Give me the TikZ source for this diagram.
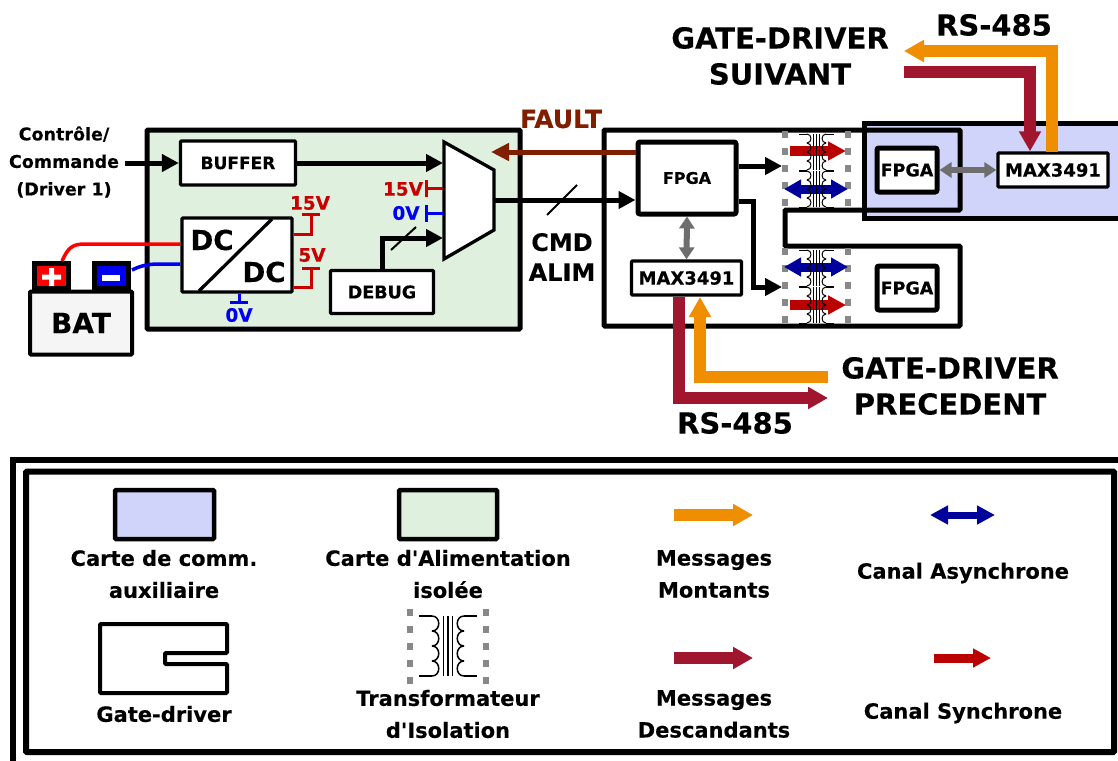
\documentclass[tikz,border=0pt]{standalone}
\usepackage{fontspec}
\usepackage{xcolor}
\usepackage{tikz}
\usetikzlibrary{arrows.meta, positioning, calc}
\setmainfont{DejaVu Sans}[Ligatures=TeXOff, BoldFeatures={FakeBold=0.25}]
\definecolor{msgorange}{RGB}{238, 142, 0}
\definecolor{msgcrimson}{RGB}{160, 22, 47}
\definecolor{chanred}{RGB}{187, 0, 0}
\definecolor{chanblue}{RGB}{0, 0, 154}
\definecolor{faultbrown}{RGB}{128, 30, 0}
\definecolor{railred}{RGB}{200, 0, 0}
\definecolor{railblue}{RGB}{0, 0, 240}
\definecolor{cardgreen}{RGB}{223, 240, 223}
\definecolor{cardblue}{RGB}{208, 212, 250}
\definecolor{isogray}{RGB}{136, 136, 136}
\definecolor{linkgray}{RGB}{110, 110, 110}
\tikzset{
    box/.style={draw, fill=white, line width=3.3pt, rounded corners=1pt, font=\bfseries, inner sep=0pt},
    fpgabox/.style={box, line width=5pt, rounded corners=2pt},
    lbl/.style={font=\bfseries, inner sep=0pt, align=center},
    sig/.style={line width=5pt, -{Triangle[length=17pt, width=17pt]}},
    rail/.style={line width=3pt},
    ribbon/.style={line width=12pt, -{Triangle[length=20pt, width=21pt]}},
    sync/.style={chanred, line width=10pt, -{Triangle[length=18pt, width=18pt]}},
    async/.style={chanblue, line width=9pt, {Triangle[length=17pt, width=18pt]}-{Triangle[length=17pt, width=18pt]}},
    graylink/.style={linkgray, line width=6pt, {Triangle[length=12pt, width=15pt]}-{Triangle[length=12pt, width=15pt]}},
    isobar/.style={isogray, line width=6pt, dash pattern=on 7pt off 10pt},
    trafo/.pic={
        \draw (-29,-30) -- (-16,-30) (29,-30) -- (16,-30) (-29,30) -- (-16,30) (29,30) -- (16,30);
        \foreach \yy in {-30,-15,0,15} {
            \draw (-16,\yy) .. controls (-7,\yy) and (-7,\yy+15) .. (-16,\yy+15);
            \draw (16,\yy) .. controls (7,\yy) and (7,\yy+15) .. (16,\yy+15);
        }
        \draw (-4.5,-30) -- (-4.5,30) (0,-30) -- (0,30) (4.5,-30) -- (4.5,30);
    }
}
\begin{document}
\begin{tikzpicture}[x=1pt, y=-1pt, line join=miter]
    \useasboundingbox (0,0) rectangle (1118,760);

    % Power card
    \draw[line width=5pt, fill=cardgreen, rounded corners=1pt] (147,130) rectangle (520,329);
    \node[box, minimum width=115pt, minimum height=44pt, font=\bfseries\fontsize{17}{17}\selectfont] (buffer) at (238,163) {BUFFER};
    \node[box, minimum width=110pt, minimum height=74pt] (dcdc) at (237,255) {};
    \draw[line width=3.3pt] (199,291) -- (272,219);
    \node[lbl, font=\bfseries\fontsize{27.5}{27.5}\selectfont] (dcup) at (212,240) {DC};
    \node[lbl, font=\bfseries\fontsize{27.5}{27.5}\selectfont] (dcdown) at (264,272) {DC};
    \node[box, minimum width=103pt, minimum height=43pt, font=\bfseries\fontsize{17.5}{17.5}\selectfont] (debug) at (382,292) {DEBUG};
    \draw[line width=3.3pt, fill=white] (444,142) coordinate (muxtl) -- (494,170) -- (494,230) -- (444,259) coordinate (muxbl) -- cycle;
    \coordinate (muxout) at (494,200);

    % Battery
    \node[draw, line width=5pt, fill=red, minimum width=34pt, minimum height=25pt, inner sep=0pt] (batplus) at (51.5,276) {};
    \node[draw, line width=5pt, fill=railblue, minimum width=34pt, minimum height=25pt, inner sep=0pt] (batminus) at (111,276) {};
    \node[box, line width=4pt, fill=black!4, minimum width=102pt, minimum height=63pt, font=\bfseries\fontsize{28}{28}\selectfont] (bat) at (81,323) {BAT};
    \fill[white] (42,274.5) rectangle (61,279.5) (49,268) rectangle (54,286);
    \fill[white] (102,275) rectangle (120,281);
    \draw[red, line width=3.5pt] (62,261) .. controls (68,248) and (72,244) .. (85,244) -- (dcdc.west |- 0,244);
    \draw[railblue, line width=3.5pt] (132,270) .. controls (142,265) and (150,264) .. (160,264) -- (dcdc.west |- 0,264);

    % Control input
    \node[lbl, font=\bfseries\fontsize{17.5}{27.5}\selectfont] (ctrl) at (64,162) {Contrôle/\\Commande\\(Driver 1)};
    \draw[sig] (125,163) -- (buffer.west);
    \draw[sig] (buffer.east) -- (443,163);

    % Rails of the converter
    \coordinate (stubA) at (311,214);
    \coordinate (stubB) at (311,268);
    \coordinate (stubC) at (239,302);
    \draw[railred, rail] (dcdc.east |- 0,234) -| (stubA);
    \draw[railred, rail] (302,214) -- (320,214);
    \draw[railred, rail] (dcdc.east |- 0,287) -| (stubB);
    \draw[railred, rail] (302,268) -- (320,268);
    \draw[railblue, rail] (dcdc.south -| stubC) -- (stubC);
    \draw[railblue, rail] (230,302) -- (248,302);
    \node[lbl, text=railred, font=\bfseries\fontsize{18.5}{18.5}\selectfont] (railA) at (310,203) {15V};
    \node[lbl, text=railred, font=\bfseries\fontsize{18.5}{18.5}\selectfont] (railB) at (312,255) {5V};
    \node[lbl, text=railblue, font=\bfseries\fontsize{18.5}{18.5}\selectfont] (railC) at (239,315) {0V};

    % Rails of the multiplexer
    \draw[railred, rail] (443,188) -- (426,188);
    \draw[railred, rail] (426,180) -- (426,197);
    \draw[railblue, rail] (443,213) -- (426,213);
    \draw[railblue, rail] (426,205) -- (426,222);
    \node[lbl, text=railred, font=\bfseries\fontsize{18.5}{18.5}\selectfont] (muxA) at (403,189) {15V};
    \node[lbl, text=railblue, font=\bfseries\fontsize{18.5}{18.5}\selectfont] (muxB) at (406,213) {0V};
    \draw[sig] (debug.north) |- (443,238);
    \draw[line width=2pt] (391,250) -- (416,227);

    % Main gate driver
    \draw[line width=5pt, fill=white, rounded corners=1pt] (604,130) -- (960,130) -- (960,210) -- (785,210) -- (785,246) -- (960,246) -- (960,326) -- (604,326) -- cycle;

    % Auxiliary card
    \draw[line width=5pt, fill=cardblue] (864,123) rectangle (1130,218);
    \draw[line width=5pt, rounded corners=1pt] (864,130) -- (960,130) -- (960,210) -- (864,210);

    % Isolation bars
    \foreach \xx in {785,848} {
        \draw[isobar] (\xx,131) -- (\xx,209);
        \draw[isobar] (\xx,248) -- (\xx,324);
    }

    % Channels
    \draw[sync] (790,151) -- (846,151);
    \draw[async] (784,189) -- (848,189);
    \draw[async] (784,267) -- (848,267);
    \draw[sync] (790,305) -- (846,305);
    \foreach \yy in {152,189,268,305} {
        \pic[scale=0.6, line width=1pt] at (816.5,\yy) {trafo};
    }

    % Boards
    \node[fpgabox, minimum width=98pt, minimum height=72pt, font=\bfseries\fontsize{16}{16}\selectfont] (fpgamain) at (687,178) {FPGA};
    \node[box, minimum width=110pt, minimum height=34pt, font=\bfseries\fontsize{18}{18}\selectfont] (maxmain) at (686.5,278) {MAX3491};
    \node[fpgabox, minimum width=60pt, minimum height=44pt, font=\bfseries\fontsize{17.5}{17.5}\selectfont] (fpgaaux) at (907,170) {FPGA};
    \node[fpgabox, minimum width=60pt, minimum height=44pt, font=\bfseries\fontsize{17.5}{17.5}\selectfont] (fpganext) at (907,288) {FPGA};
    \node[box, minimum width=110pt, minimum height=34pt, font=\bfseries\fontsize{18}{18}\selectfont] (maxaux) at (1053,170) {MAX3491};
    \draw[graylink] (fpgaaux.east) -- (maxaux.west);
    \draw[graylink] (fpgamain.south) -- (maxmain.north);

    % Links out of the FPGA
    \coordinate (isoup) at (782,166);
    \coordinate (isodown) at (782,287);
    \draw[sig] (fpgamain.east |- isoup) -- (isoup);
    \draw[sig] (fpgamain.east |- 0,201) -- (753,201) |- (isodown);
    \draw[sig] (muxout) -- (fpgamain.west |- muxout);
    \draw[line width=2pt] (547,215) -- (577,185);
    \draw[faultbrown, line width=5pt, -{Triangle[length=18pt, width=17pt]}] (fpgamain.west |- 0,152) -- (491,152);
    \node[lbl, text=faultbrown, font=\bfseries\fontsize{25}{25}\selectfont] (fault) at (561,119) {FAULT};
    \node[lbl, font=\bfseries\fontsize{24}{30}\selectfont] (cmd) at (562,257) {CMD\\ALIM};

    % RS-485 up
    \coordinate (nextup) at (904,51);
    \coordinate (nextdown) at (904,72);
    \draw[msgorange, ribbon] (1052,152) |- (nextup);
    \draw[msgcrimson, ribbon] (nextdown) -| (maxaux.north -| 1030,0);
    \node[lbl, font=\bfseries\fontsize{29}{36}\selectfont] (suivant) at (780,56) {GATE-DRIVER\\SUIVANT};
    \node[lbl, font=\bfseries\fontsize{29}{29}\selectfont] (rsup) at (994,25) {RS-485};

    % RS-485 down
    \coordinate (prevdown) at (828,398);
    \coordinate (prevup) at (828,377);
    \draw[msgcrimson, ribbon] (maxmain.south -| 678.5,0) |- (prevdown);
    \draw[msgorange, ribbon] (prevup) -| (700,297);
    \node[lbl, font=\bfseries\fontsize{29}{36}\selectfont] (precedent) at (950,386) {GATE-DRIVER\\PRECEDENT};
    \node[lbl, font=\bfseries\fontsize{29}{29}\selectfont] (rsdown) at (735,423) {RS-485};

    % Legend frames
    \draw[line width=6pt] (1130,459.5) -- (13,459.5) -- (13,775);
    \draw[line width=6pt, rounded corners=1pt] (26,471.5) rectangle (1114,752);

    % Legend symbols
    \draw[line width=4.5pt, fill=cardblue, rounded corners=1pt] (115,490) rectangle (214,539);
    \draw[line width=4.5pt, fill=cardgreen, rounded corners=1pt] (399,490) rectangle (497,539);
    \draw[line width=4pt, rounded corners=1pt] (100,624) -- (227,624) -- (227,653) -- (165,653) -- (165,664) -- (227,664) -- (227,693) -- (100,693) -- cycle;
    \foreach \xx in {410,486} {
        \draw[isobar, line width=5.5pt, dash pattern=on 7pt off 10pt] (\xx,609) -- (\xx,684);
    }
    \pic[line width=1.5pt] at (448,646) {trafo};
    \coordinate (upA) at (674,515);
    \coordinate (upB) at (753,515);
    \coordinate (downA) at (674,658);
    \coordinate (downB) at (753,658);
    \draw[msgorange, ribbon] (upA) -- (upB);
    \draw[msgcrimson, ribbon] (downA) -- (downB);
    \draw[chanblue, line width=7pt, {Triangle[length=18pt, width=18pt]}-{Triangle[length=18pt, width=18pt]}] (930,515) -- (995,515);
    \draw[chanred, line width=9pt, -{Triangle[length=18pt, width=18pt]}] (934,658) -- (991,658);

    % Legend texts
    \tikzset{legendtxt/.style={lbl, font=\bfseries\fontsize{21}{32}\selectfont}}
    \node[legendtxt] (lgaux) at (164,574) {Carte de comm.\\auxiliaire};
    \node[legendtxt] (lgpower) at (448,574) {Carte d'Alimentation\\isolée};
    \node[legendtxt] (lggate) at (164,714) {Gate-driver};
    \node[legendtxt] (lgtrafo) at (448,714) {Transformateur\\d'Isolation};
    \node[legendtxt] (lgup) at (714,574) {Messages\\Montants};
    \node[legendtxt] (lgdown) at (714,714) {Messages\\Descandants};
    \node[legendtxt] (lgasync) at (963,573) {Canal Asynchrone};
    \node[legendtxt] (lgsync) at (963,713) {Canal Synchrone};
\end{tikzpicture}
\end{document}
